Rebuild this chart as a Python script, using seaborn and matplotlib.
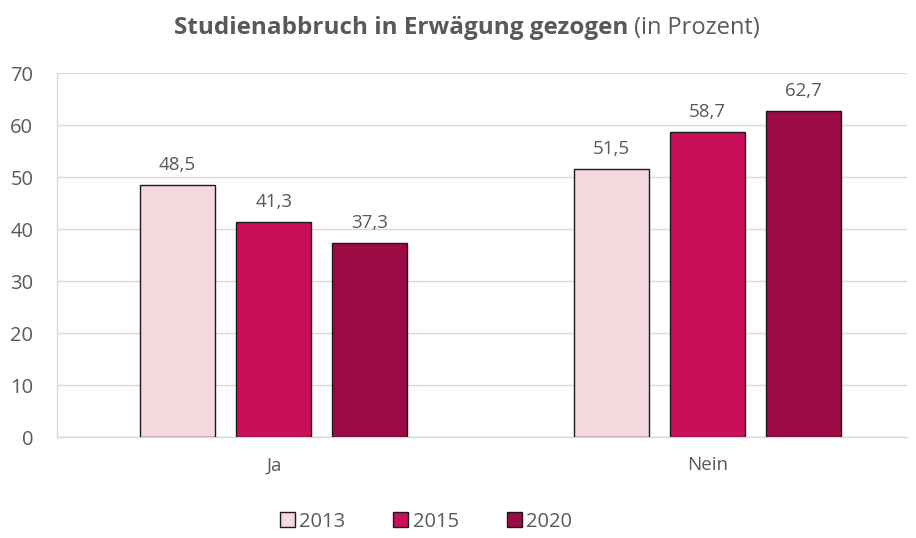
import pandas as pd
import numpy as np
import matplotlib.pyplot as plt
import seaborn as sns

antworten = ["Ja", "Nein"]
jahre = ["2013", "2015", "2020"]
werte_2013 = [48.5, 51.5]
werte_2015 = [41.3, 58.7]
werte_2020 = [37.3, 62.7]

farben = ["#F4D8DD", "#C8105A", "#9B0C45"]
grau = "#595959"

df = pd.DataFrame({
    "Antwort": antworten * 3,
    "Jahr": [j for j in jahre for _ in antworten],
    "Wert": werte_2013 + werte_2015 + werte_2020,
})

sns.set_theme(style="white")
plt.rcParams["font.family"] = ["Open Sans", "DejaVu Sans"]

fig = plt.figure(figsize=(9.16, 5.38), dpi=100)
ax = fig.add_axes([0.0622, 0.1877, 0.928, 0.6766])

sns.barplot(data=df, x="Antwort", y="Wert", hue="Jahr", palette=farben, saturation=1,
            width=0.665, gap=0.22, edgecolor="#1a1a1a", linewidth=1.0,
            ax=ax, zorder=3)

for cont in ax.containers:
    ax.bar_label(cont, labels=[f"{v:.1f}".replace(".", ",") for v in cont.datavalues],
                 padding=8, fontsize=13.5, color=grau)

ax.set_ylim(0, 70)
ax.set_yticks(range(0, 71, 10))
ax.set_xlim(-0.5, 1.461)
ax.yaxis.grid(True, color="#d9d9d9", linewidth=1, zorder=0)
ax.set_xlabel("")
ax.set_ylabel("")
ax.tick_params(axis="y", labelsize=14.5, labelcolor=grau, length=0, pad=17)
ax.tick_params(axis="x", labelsize=13.5, labelcolor=grau, length=0, pad=14)
for s in ["top", "right"]:
    ax.spines[s].set_visible(False)
for s in ["left", "bottom"]:
    ax.spines[s].set_color("#d9d9d9")
    ax.spines[s].set_linewidth(1)

ax.legend(loc="center", bbox_to_anchor=(0.434, -0.233), ncol=3, frameon=False,
          fontsize=14.5, labelcolor=grau, handlelength=0.75, handleheight=0.75,
          handletextpad=0.2, columnspacing=2.4)

fig.text(628 / 916, 1 - 28 / 538, "Studienabbruch in Erwägung gezogen", ha="right",
         va="center", fontsize=17.5, fontweight="bold", color=grau)
fig.text(634 / 916, 1 - 28 / 538, "(in Prozent)", ha="left", va="center",
         fontsize=17, color=grau)

fig.savefig("out.png", dpi=100)
